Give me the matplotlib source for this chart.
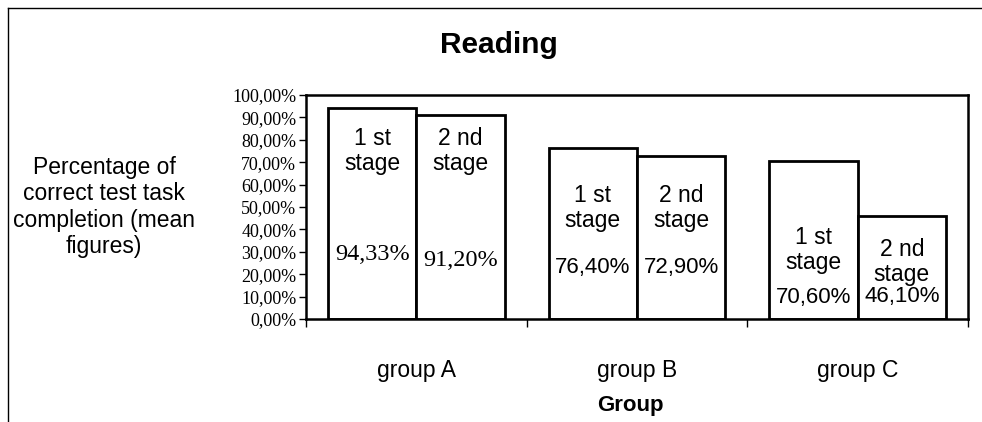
import matplotlib.pyplot as plt
import numpy as np

groups = ['group A', 'group B', 'group C']
stage1 = [94.33, 76.40, 70.60]
stage2 = [91.20, 72.90, 46.10]
stage1_text = ['94,33%', '76,40%', '70,60%']
stage2_text = ['91,20%', '72,90%', '46,10%']

sans = 'Liberation Sans'
serif = 'Liberation Serif'

fig = plt.figure(figsize=(9.82, 4.22), dpi=100)
ax = fig.add_axes([306 / 982, 1 - 319 / 422, 662 / 982, 224 / 422])

x = np.arange(len(groups))
w = 0.4
ax.bar(x - w / 2, stage1, w, color='white', edgecolor='black', linewidth=2)
ax.bar(x + w / 2, stage2, w, color='white', edgecolor='black', linewidth=2)

ax.set_xlim(-0.5, 2.5)
ax.set_ylim(0, 100)

# labels inside each bar: stage name and value
name_y1 = [75, 49.5, 30.8]
name_y2 = [75, 49.5, 25.5]
val_y1 = [28.6, 22.8, 9.8]
val_y2 = [26, 22.8, 10.2]
for i in range(len(groups)):
    ax.text(x[i] - w / 2, name_y1[i], '1 st\nstage', ha='center', va='center',
            fontsize=16.5, family=sans, linespacing=1.1)
    ax.text(x[i] + w / 2, name_y2[i], '2 nd\nstage', ha='center', va='center',
            fontsize=16.5, family=sans, linespacing=1.1)
    vf = serif if i == 0 else sans
    vs = 17.5 if i == 0 else 16
    ax.text(x[i] - w / 2, val_y1[i], stage1_text[i], ha='center', va='center',
            fontsize=vs, family=vf)
    ax.text(x[i] + w / 2, val_y2[i], stage2_text[i], ha='center', va='center',
            fontsize=vs, family=vf)

yt = np.arange(0, 101, 10)
ax.set_yticks(yt)
ax.set_yticklabels(['%d,00%%' % v for v in yt], family=serif, fontsize=13)
ax.tick_params(axis='y', direction='out', length=5, width=1, pad=2)

ax.set_xticks([-0.5, 0.5, 1.5, 2.5])
ax.set_xticklabels([])
ax.tick_params(axis='x', direction='out', length=6, width=1)
for i, g in enumerate(groups):
    ax.text(x[i], -22.8, g, ha='center', va='center', fontsize=16.5, family=sans)

for s in ax.spines.values():
    s.set_linewidth(1.8)

fig.text(499 / 982, 1 - 45 / 422, 'Reading', ha='center', va='center',
         fontsize=21.5, fontweight='bold', family=sans)
fig.text(630 / 982, 1 - 405 / 422, 'Group', ha='center', va='center',
         fontsize=16, fontweight='bold', family=sans)
fig.text(104 / 982, 1 - 207 / 422,
         'Percentage of\ncorrect test task\ncompletion (mean\nfigures)',
         ha='center', va='center', fontsize=16.5, family=sans, linespacing=1.2)

# outer frame lines along the top and left edges
fig.add_artist(plt.Line2D([8 / 982, 1], [1 - 8 / 422, 1 - 8 / 422], color='black', lw=1))
fig.add_artist(plt.Line2D([8 / 982, 8 / 982], [0, 1 - 8 / 422], color='black', lw=1))

fig.savefig('out.png', dpi=100)
